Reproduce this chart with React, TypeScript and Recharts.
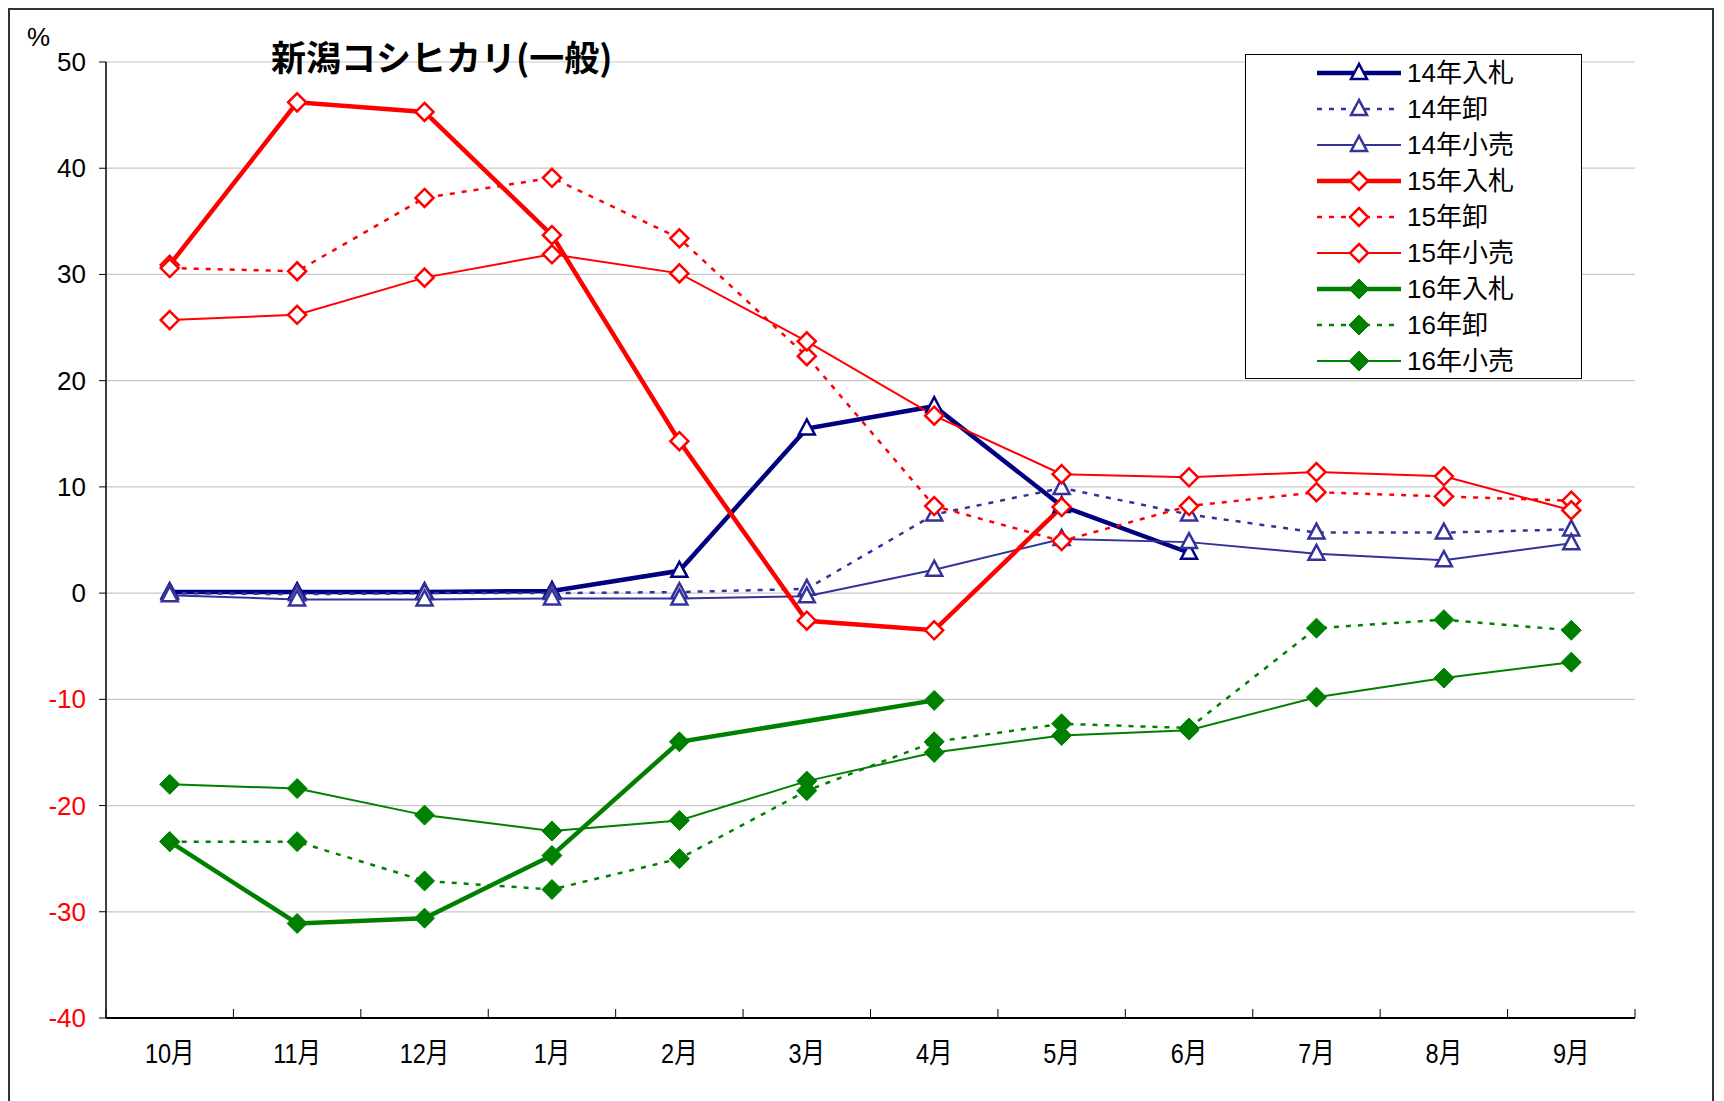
import React from "react"
import { LineChart, Line, XAxis, YAxis, CartesianGrid } from "recharts"

const months = ["10月", "11月", "12月", "1月", "2月", "3月", "4月", "5月", "6月", "7月", "8月", "9月"]

const bid14 = [0.1, 0.1, 0.1, 0.2, 2.1, 15.5, 17.6, 8.2, 3.8, null, null, null]
const whole14 = [0, -0.1, 0, 0, 0.1, 0.4, 7.4, 9.9, 7.4, 5.7, 5.7, 6.0]
const retail14 = [-0.2, -0.6, -0.6, -0.5, -0.5, -0.3, 2.2, 5.1, 4.8, 3.7, 3.1, 4.7]

const bid15 = [30.9, 46.2, 45.3, 33.7, 14.3, -2.6, -3.5, 8.1, null, null, null, null]
const whole15 = [30.6, 30.3, 37.2, 39.1, 33.4, 22.3, 8.2, 4.9, 8.2, 9.5, 9.1, 8.7]
const retail15 = [25.7, 26.2, 29.7, 31.9, 30.1, 23.7, 16.7, 11.2, 10.9, 11.4, 11.0, 7.8]

const bid16 = [-23.4, -31.1, -30.6, -24.7, -14.0, null, -10.1, null, null, null, null, null]
const whole16 = [-23.4, -23.4, -27.1, -27.9, -25.0, -18.6, -14.0, -12.3, -12.7, -3.3, -2.5, -3.5]
const retail16 = [-18.0, -18.4, -20.9, -22.4, -21.4, -17.7, -15.0, -13.4, -12.9, -9.8, -8.0, -6.5]

const yTicks = [-40, -30, -20, -10, 0, 10, 20, 30, 40, 50]

const FONT = '"Liberation Sans", Arial, "Noto Sans CJK JP", sans-serif'

type Marker = "tri" | "diamond" | "filled"

type Series = {
  key: string
  name: string
  values: (number | null)[]
  color: string
  width: number
  dash?: string
  marker: Marker
}

const series: Series[] = [
  { key: "bid14", name: "14年入札", values: bid14, color: "#000080", width: 4.5, marker: "tri" },
  { key: "whole14", name: "14年卸", values: whole14, color: "#333399", width: 2.5, dash: "5 7", marker: "tri" },
  { key: "retail14", name: "14年小売", values: retail14, color: "#333399", width: 2, marker: "tri" },
  { key: "bid15", name: "15年入札", values: bid15, color: "#ff0000", width: 4.5, marker: "diamond" },
  { key: "whole15", name: "15年卸", values: whole15, color: "#ff0000", width: 2.5, dash: "5 7", marker: "diamond" },
  { key: "retail15", name: "15年小売", values: retail15, color: "#ff0000", width: 2, marker: "diamond" },
  { key: "bid16", name: "16年入札", values: bid16, color: "#008000", width: 4.5, marker: "filled" },
  { key: "whole16", name: "16年卸", values: whole16, color: "#008000", width: 2.5, dash: "5 7", marker: "filled" },
  { key: "retail16", name: "16年小売", values: retail16, color: "#008000", width: 2, marker: "filled" },
]

const data = months.map((m, i) => {
  const row: Record<string, number | string | null> = { x: i, month: m }
  series.forEach((s) => {
    row[s.key] = s.values[i]
  })
  return row
})

const xTicks = months.flatMap((_, i) => [i - 0.5, i]).concat(months.length - 0.5)

function MarkerShape({ type, cx, cy, color }: { type: Marker; cx: number; cy: number; color: string }) {
  if (type === "tri") {
    return (
      <polygon
        points={`${cx},${cy - 9} ${cx - 8},${cy + 6} ${cx + 8},${cy + 6}`}
        fill="#fff"
        stroke={color}
        strokeWidth={2.5}
      />
    )
  }
  const r = type === "filled" ? 10 : 9
  return (
    <polygon
      points={`${cx},${cy - r} ${cx + r},${cy} ${cx},${cy + r} ${cx - r},${cy}`}
      fill={type === "filled" ? color : "#fff"}
      stroke={color}
      strokeWidth={type === "filled" ? 1 : 2.5}
    />
  )
}

const makeDot = (s: Series) => (props: any) => {
  const { cx, cy, value, index } = props
  if (value == null || cx == null || cy == null) return <g key={`${s.key}-${index}`} />
  return (
    <g key={`${s.key}-${index}`}>
      <MarkerShape type={s.marker} cx={cx} cy={cy} color={s.color} />
    </g>
  )
}

function XTick(props: any) {
  const { x, y, payload } = props
  const v = payload.value as number
  if (!Number.isInteger(v)) {
    return <line x1={x} y1={y} x2={x} y2={y - 9} stroke="#000" strokeWidth={1} />
  }
  return (
    <text
      x={x}
      y={y + 35}
      textAnchor="middle"
      dominantBaseline="central"
      fontSize={28}
      fontFamily={FONT}
      fill="#000"
      transform={`translate(${x} 0) scale(0.84 1) translate(${-x} 0)`}
    >
      {months[v]}
    </text>
  )
}

function YTick(props: any) {
  const { x, y, payload } = props
  const v = payload.value as number
  return (
    <g>
      <line x1={x - 7} y1={y} x2={x} y2={y} stroke="#000" strokeWidth={1} />
      <text
        x={x - 20}
        y={y}
        textAnchor="end"
        dominantBaseline="central"
        fontSize={26}
        fontFamily={FONT}
        fill={v < 0 ? "#ff0000" : "#000"}
      >
        {v}
      </text>
    </g>
  )
}

function LegendBox() {
  return (
    <div
      style={{
        position: "absolute",
        left: 1235,
        top: 44,
        width: 335,
        height: 323,
        border: "1.5px solid #000",
        background: "#fff",
        fontFamily: FONT,
      }}
    >
      {series.map((s, i) => (
        <div
          key={s.key}
          style={{ position: "absolute", left: 0, top: i * 36, height: 36, width: 335 }}
        >
          <svg width={160} height={36} style={{ position: "absolute", left: 0, top: 0 }}>
            <line
              x1={71}
              y1={18}
              x2={155}
              y2={18}
              stroke={s.color}
              strokeWidth={s.width}
              strokeDasharray={s.dash}
            />
            <MarkerShape type={s.marker} cx={113} cy={18} color={s.color} />
          </svg>
          <span
            style={{
              position: "absolute",
              left: 161,
              top: 0,
              lineHeight: "36px",
              fontSize: 26,
              color: "#000",
              whiteSpace: "nowrap",
            }}
          >
            {s.name}
          </span>
        </div>
      ))}
    </div>
  )
}

export default function App() {
  return (
    <div
      style={{
        position: "relative",
        width: 1702,
        height: 1100,
        border: "2px solid #333",
        background: "#fff",
      }}
    >
      <LineChart
        width={1700}
        height={1088}
        data={data}
        margin={{ top: 52, right: 75, left: 0, bottom: 0 }}
      >
        <CartesianGrid horizontal vertical={false} stroke="#c8c8c8" strokeWidth={1.2} />
        <XAxis
          dataKey="x"
          type="number"
          domain={[-0.5, months.length - 0.5]}
          ticks={xTicks}
          interval={0}
          height={80}
          tickLine={false}
          tickSize={0}
          tickMargin={0}
          axisLine={{ stroke: "#000", strokeWidth: 2 }}
          tick={<XTick />}
        />
        <YAxis
          type="number"
          domain={[-40, 50]}
          ticks={yTicks}
          interval={0}
          width={96}
          tickLine={false}
          tickSize={0}
          tickMargin={0}
          axisLine={{ stroke: "#000", strokeWidth: 1.5 }}
          tick={<YTick />}
        />
        {series.map((s) => (
          <Line
            key={s.key}
            dataKey={s.key}
            name={s.name}
            type="linear"
            stroke={s.color}
            strokeWidth={s.width}
            strokeDasharray={s.dash}
            connectNulls={s.key === "bid16"}
            dot={makeDot(s)}
            activeDot={false}
            isAnimationActive={false}
          />
        ))}
      </LineChart>
      <div
        style={{
          position: "absolute",
          left: 17,
          top: 12,
          fontSize: 26,
          fontFamily: FONT,
          color: "#000",
        }}
      >
        %
      </div>
      <div
        style={{
          position: "absolute",
          left: 261,
          top: 22,
          fontSize: 35,
          fontWeight: "bold",
          fontFamily: '"Noto Sans CJK JP", sans-serif',
          color: "#000",
          lineHeight: "48px",
          whiteSpace: "nowrap",
        }}
      >
        新潟コシヒカリ(一般)
      </div>
      <LegendBox />
    </div>
  )
}
